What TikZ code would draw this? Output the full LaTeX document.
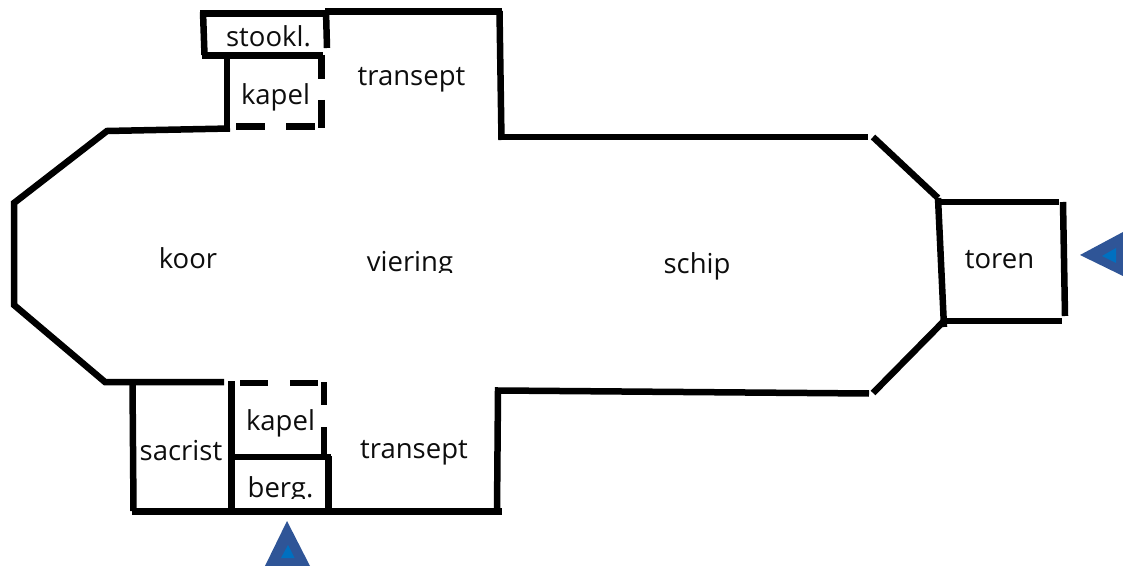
\documentclass[tikz,border=0pt]{standalone}
\usepackage{fontspec}
\setmainfont{Open Sans}
\definecolor{tridark}{HTML}{2F5597}
\definecolor{trilight}{HTML}{0070C0}
\tikzset{
  wall/.style={line width=6.5bp,black,line cap=butt,line join=miter},
  lbl/.style={inner sep=0pt,font=\fontsize{27.5bp}{30bp}\selectfont,text=black!95,anchor=base},
}
\begin{document}
\begin{tikzpicture}[x=1bp,y=-1bp]
\useasboundingbox (0,0) rectangle (1123,566);
% top part
\draw[wall] (200,13.5) -- (326,13.5);
\draw[wall] (203,12) -- (204.5,55);
\draw[wall] (202,55.5) -- (323,55.5);
\draw[wall] (325,11.5) -- (502,11.5);
\draw[wall] (326,11) -- (327,48);
\draw[wall] (227,55) -- (227,131);
\draw[wall] (321.5,55) -- (321.5,79);
\draw[wall] (321.5,100) -- (321.5,128);
\draw[wall] (236,126.5) -- (265,126.5);
\draw[wall] (286,126.5) -- (315,126.5);
\draw[wall] (499.5,11) -- (501.5,140);
\draw[wall] (499,137) -- (868,137);
% choir
\draw[wall] (230,128.5) -- (107,131) -- (14,203) -- (14,305) -- (105,382) -- (224,382);
% tower
\draw[wall] (873,137) -- (938,198);
\draw[wall] (938,198) -- (944,327);
\draw[wall] (938,202) -- (1059,202);
\draw[wall] (1063,202) -- (1065,316);
\draw[wall] (944,321) -- (1062,321);
\draw[wall] (944,321) -- (873,393);
% south side
\draw[wall] (869,393.5) -- (498,390.5) -- (497,511);
\draw[wall] (132,511.5) -- (502,511.5);
\draw[wall] (132.5,382) -- (133.5,511);
\draw[wall] (231.5,381) -- (231.5,511);
\draw[wall] (233,457) -- (331,457);
\draw[wall] (328.5,456) -- (328.5,511);
\draw[wall] (324,382) -- (324,405);
\draw[wall] (324,427) -- (324,456);
\draw[wall] (240,383) -- (268,383);
\draw[wall] (290,383) -- (318,383);
% arrows
\fill[tridark] (287,521) -- (310,566) -- (265,566) -- cycle;
\fill[trilight] (288,545) -- (294.5,558) -- (281,558) -- cycle;
\fill[tridark] (1080,255) -- (1123,232) -- (1123,276) -- cycle;
\fill[trilight] (1102,256) -- (1116,248) -- (1116,263) -- cycle;
% labels
\node[lbl] (stookl) at (268.5,47) {stookl.};
\node[lbl] (transeptn) at (411.5,86) {transept};
\node[lbl] (kapeln) at (275.5,105) {kapel};
\node[lbl] (koor) at (188,268.5) {koor};
\begin{scope}
\clip (350,240) rectangle (470,272.5);
\node[lbl] (viering) at (410,272) {viering};
\end{scope}
\node[lbl] (schip) at (697,274) {schip};
\node[lbl] (toren) at (999.5,269) {toren};
\node[lbl] (kapels) at (280.5,430.5) {kapel};
\node[lbl] (sacrist) at (181,460.5) {sacrist};
\node[lbl] (transepts) at (414,458.5) {transept};
\begin{scope}
\clip (235,470) rectangle (325,498);
\node[lbl] (berg) at (280.5,497.5) {berg.};
\end{scope}
\end{tikzpicture}
\end{document}
